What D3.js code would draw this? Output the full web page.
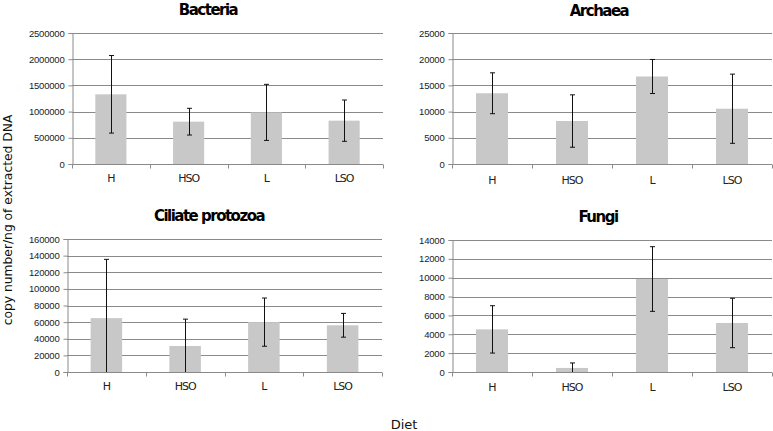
<!DOCTYPE html>
<html>
<head>
<meta charset="utf-8">
<script src="https://cdn.jsdelivr.net/npm/d3@7"></script>
<style>
  html, body { margin: 0; padding: 0; background: #fff; }
  svg { display: block; }
</style>
</head>
<body>
<svg id="chart" width="773" height="431"></svg>
<script>
// ---- data ----
const categories = ["H", "HSO", "L", "LSO"];

const bacteriaMean = [1330000, 808000, 985000, 827000];
const bacteriaErr  = [740000, 255000, 535000, 394000];
const bacteriaTicks = [0, 500000, 1000000, 1500000, 2000000, 2500000];

const archaeaMean = [13500, 8200, 16700, 10550];
const archaeaErr  = [3900, 5000, 3250, 6600];
const archaeaTicks = [0, 5000, 10000, 15000, 20000, 25000];

const ciliateMean = [64800, 31300, 60000, 56200];
const ciliateErr  = [70700, 32300, 29000, 14300];
const ciliateTicks = [0, 20000, 40000, 60000, 80000, 100000, 120000, 140000, 160000];

const fungiMean = [4520, 430, 9860, 5200];
const fungiErr  = [2510, 530, 3430, 2620];
const fungiTicks = [0, 2000, 4000, 6000, 8000, 10000, 12000, 14000];

const titles = ["Bacteria", "Archaea", "Ciliate protozoa", "Fungi"];
const yAxisLabel = "copy number/ng of extracted DNA";
const xAxisLabel = "Diet";

// ---- layout (pixel boxes of each panel) ----
const panels = [
  { title: titles[0], mean: bacteriaMean, err: bacteriaErr, ticks: bacteriaTicks,
    x0: 72, x1: 383, yTop: 33, yBot: 164, titleX: 208, titleY: 15, labY: 182 },
  { title: titles[1], mean: archaeaMean, err: archaeaErr, ticks: archaeaTicks,
    x0: 452, x1: 772, yTop: 33, yBot: 164, titleX: 599, titleY: 16, labY: 184 },
  { title: titles[2], mean: ciliateMean, err: ciliateErr, ticks: ciliateTicks,
    x0: 67, x1: 382, yTop: 239, yBot: 372, titleX: 209, titleY: 221, labY: 390 },
  { title: titles[3], mean: fungiMean, err: fungiErr, ticks: fungiTicks,
    x0: 452, x1: 772, yTop: 240, yBot: 372, titleX: 598, titleY: 222, labY: 391 }
];

const svg = d3.select("#chart");
const gridColor = "#8a8a8a";
const axisColor = "#8a8a8a";
const barColor = "#c8c8c8";

panels.forEach(p => {
  const g = svg.append("g");
  const x = d3.scaleBand().domain(categories).range([p.x0, p.x1]).paddingInner(0.6).paddingOuter(0.3);
  const xb = d3.scaleBand().domain(categories).range([p.x0, p.x1]);
  const ymax = p.ticks[p.ticks.length - 1];
  const y = d3.scaleLinear().domain([0, ymax]).range([p.yBot, p.yTop]);

  // gridlines
  g.selectAll(".grid").data(p.ticks.filter(t => t > 0)).join("line")
    .attr("x1", p.x0).attr("x2", p.x1)
    .attr("y1", d => Math.round(y(d)) + 0.5).attr("y2", d => Math.round(y(d)) + 0.5)
    .attr("stroke", gridColor).attr("stroke-width", 1);

  // y axis
  const yAxis = d3.axisLeft(y).tickValues(p.ticks).tickSize(4).tickPadding(4)
    .tickFormat(d3.format("d"));
  const ya = g.append("g").attr("transform", `translate(${p.x0 + 0.5},0)`).call(yAxis);
  ya.select(".domain").attr("stroke", axisColor);
  ya.selectAll(".tick line").attr("stroke", axisColor);
  ya.selectAll(".tick text").attr("font-family", "Liberation Sans, Arial, sans-serif")
    .attr("font-size", "9.5px").attr("fill", "#222").attr("letter-spacing", "-0.2px");

  // bars
  g.selectAll(".bar").data(categories).join("rect")
    .attr("x", d => x(d)).attr("width", x.bandwidth())
    .attr("y", (d, i) => y(p.mean[i]))
    .attr("height", (d, i) => y(0) - y(p.mean[i]))
    .attr("fill", barColor);

  // x axis
  const xa = g.append("g").attr("transform", `translate(0,${Math.round(p.yBot) + 0.5})`);
  xa.append("line").attr("x1", p.x0).attr("x2", p.x1).attr("stroke", axisColor);
  const bounds = categories.map(c => xb(c)).concat([p.x1]);
  xa.selectAll(".xt").data(bounds).join("line")
    .attr("x1", d => Math.round(d) + 0.5).attr("x2", d => Math.round(d) + 0.5)
    .attr("y1", 0).attr("y2", 4).attr("stroke", axisColor);
  g.selectAll(".xl").data(categories).join("text")
    .attr("x", d => xb(d) + xb.bandwidth() / 2).attr("y", p.labY)
    .attr("text-anchor", "middle")
    .attr("font-family", "DejaVu Sans, sans-serif").attr("font-size", "11px")
    .attr("fill", "#222").attr("letter-spacing", "-1px")
    .text(d => d);

  // error bars (clipped at axis minimum, as in the source)
  const eb = g.selectAll(".eb").data(categories).join("g");
  const cx = d => Math.round(xb(d) + xb.bandwidth() / 2) + 0.5;
  const hi = i => y(Math.min(ymax, p.mean[i] + p.err[i]));
  const lo = i => y(Math.max(0, p.mean[i] - p.err[i]));
  eb.append("line").attr("x1", cx).attr("x2", cx)
    .attr("y1", (d, i) => hi(i)).attr("y2", (d, i) => lo(i))
    .attr("stroke", "#111").attr("stroke-width", 1);
  eb.append("line").attr("x1", d => cx(d) - 2.5).attr("x2", d => cx(d) + 2.5)
    .attr("y1", (d, i) => hi(i)).attr("y2", (d, i) => hi(i))
    .attr("stroke", "#111").attr("stroke-width", 1);
  eb.filter((d, i) => p.mean[i] - p.err[i] > 0).append("line")
    .attr("x1", d => cx(d) - 2.5).attr("x2", d => cx(d) + 2.5)
    .attr("y1", d => lo(categories.indexOf(d))).attr("y2", d => lo(categories.indexOf(d)))
    .attr("stroke", "#111").attr("stroke-width", 1);

  // title
  g.append("text").attr("x", p.titleX).attr("y", p.titleY).attr("text-anchor", "middle")
    .attr("font-family", "DejaVu Sans, sans-serif").attr("font-weight", "bold")
    .attr("font-size", "15px").attr("letter-spacing", "-1.5px").attr("fill", "#000")
    .text(p.title);
});

// shared axis labels
svg.append("text").attr("transform", "translate(12,220) rotate(-90)")
  .attr("text-anchor", "middle").attr("font-family", "DejaVu Sans, sans-serif")
  .attr("font-size", "12.3px").attr("fill", "#111").text(yAxisLabel);
svg.append("text").attr("x", 404).attr("y", 429).attr("text-anchor", "middle")
  .attr("font-family", "DejaVu Sans, sans-serif").attr("font-size", "13px")
  .attr("fill", "#111").text(xAxisLabel);
</script>
</body>
</html>
